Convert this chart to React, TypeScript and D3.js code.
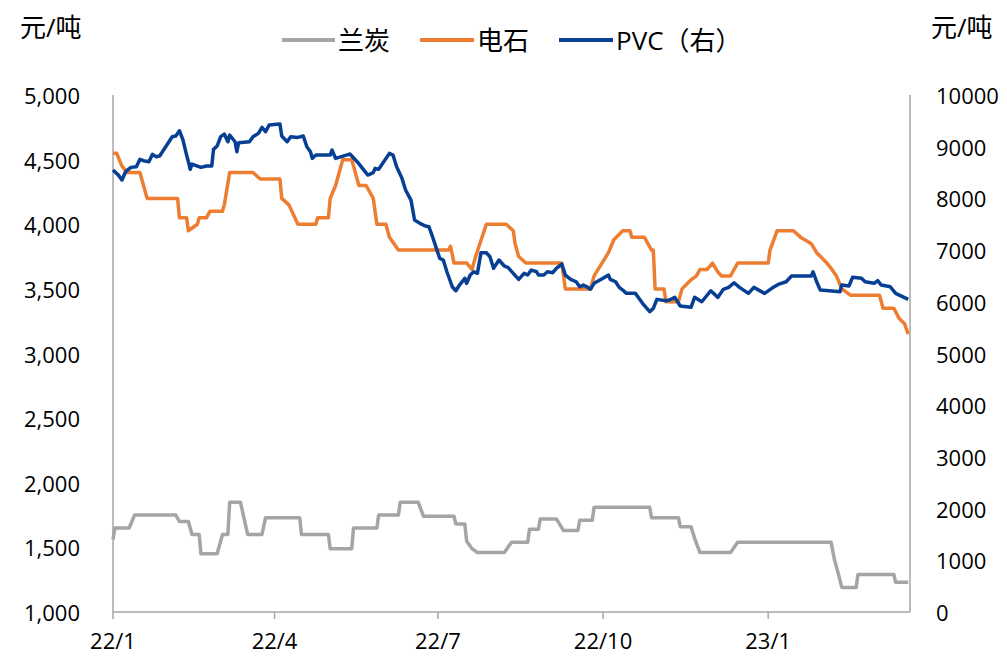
import React from "react";
import * as d3 from "d3";

// ---- Data ----
// 兰炭 (left axis, 元/吨)
const lantanDates = ["2022-01-01","2022-01-02","2022-01-10","2022-01-13","2022-02-05","2022-02-07","2022-02-12","2022-02-14","2022-02-18","2022-02-19","2022-02-28","2022-03-03","2022-03-06","2022-03-07","2022-03-13","2022-03-17","2022-03-25","2022-03-27","2022-04-15","2022-04-16","2022-05-01","2022-05-02","2022-05-14","2022-05-15","2022-05-28","2022-05-29","2022-06-09","2022-06-10","2022-06-20","2022-06-23","2022-07-10","2022-07-11","2022-07-16","2022-07-17","2022-07-20","2022-07-23","2022-08-07","2022-08-11","2022-08-20","2022-08-21","2022-08-26","2022-08-27","2022-09-05","2022-09-09","2022-09-17","2022-09-18","2022-09-25","2022-09-26","2022-10-27","2022-10-28","2022-11-12","2022-11-13","2022-11-19","2022-11-21","2022-11-24","2022-12-11","2022-12-15","2023-02-05","2023-02-07","2023-02-09","2023-02-11","2023-02-19","2023-02-20","2023-03-12","2023-03-13","2023-03-20"];
const lantanValues = [1560,1650,1650,1750,1750,1700,1700,1600,1600,1450,1450,1600,1600,1850,1850,1600,1600,1730,1730,1600,1600,1490,1490,1650,1650,1750,1750,1850,1850,1740,1740,1680,1680,1550,1490,1460,1460,1540,1540,1640,1640,1720,1720,1630,1630,1710,1710,1810,1810,1730,1730,1660,1660,1570,1460,1460,1540,1540,1400,1300,1190,1190,1290,1290,1230,1230];

// 电石 (left axis, 元/吨)
const dianshiDates = ["2022-01-01","2022-01-03","2022-01-06","2022-01-09","2022-01-16","2022-01-20","2022-02-06","2022-02-07","2022-02-11","2022-02-12","2022-02-17","2022-02-18","2022-02-22","2022-02-24","2022-03-03","2022-03-04","2022-03-07","2022-03-20","2022-03-24","2022-04-04","2022-04-05","2022-04-09","2022-04-14","2022-04-24","2022-04-25","2022-05-01","2022-05-02","2022-05-05","2022-05-07","2022-05-09","2022-05-14","2022-05-18","2022-05-22","2022-05-26","2022-05-28","2022-06-02","2022-06-04","2022-06-09","2022-07-07","2022-07-08","2022-07-10","2022-07-17","2022-07-20","2022-07-22","2022-07-28","2022-08-08","2022-08-12","2022-08-13","2022-08-15","2022-08-19","2022-09-08","2022-09-10","2022-09-24","2022-09-26","2022-10-04","2022-10-07","2022-10-12","2022-10-16","2022-10-17","2022-10-24","2022-10-28","2022-10-29","2022-10-30","2022-11-04","2022-11-05","2022-11-12","2022-11-14","2022-11-19","2022-11-22","2022-11-24","2022-11-28","2022-12-01","2022-12-04","2022-12-06","2022-12-11","2022-12-15","2023-01-01","2023-01-02","2023-01-06","2023-01-15","2023-01-19","2023-01-25","2023-01-28","2023-02-02","2023-02-05","2023-02-08","2023-02-11","2023-02-16","2023-03-04","2023-03-06","2023-03-12","2023-03-15","2023-03-18","2023-03-20"];
const dianshiValues = [4550,4550,4450,4400,4400,4200,4200,4050,4050,3950,4000,4050,4050,4100,4100,4150,4400,4400,4350,4350,4200,4150,4000,4000,4050,4050,4200,4300,4400,4500,4500,4300,4300,4200,4000,4000,3900,3800,3800,3830,3700,3700,3650,3750,4000,4000,3950,3850,3750,3700,3700,3500,3500,3600,3780,3880,3950,3950,3900,3900,3800,3800,3500,3500,3400,3400,3500,3570,3600,3650,3650,3700,3630,3600,3600,3700,3700,3800,3950,3950,3900,3850,3780,3710,3660,3600,3500,3450,3450,3350,3350,3270,3230,3150];

// PVC (right axis, 元/吨)
const pvcDates = ["2022-01-01","2022-01-04","2022-01-06","2022-01-08","2022-01-11","2022-01-14","2022-01-16","2022-01-18","2022-01-21","2022-01-23","2022-01-25","2022-01-27","2022-02-03","2022-02-05","2022-02-07","2022-02-09","2022-02-11","2022-02-12","2022-02-13","2022-02-14","2022-02-19","2022-02-22","2022-02-25","2022-02-26","2022-02-28","2022-03-02","2022-03-04","2022-03-06","2022-03-07","2022-03-10","2022-03-11","2022-03-12","2022-03-18","2022-03-20","2022-03-23","2022-03-25","2022-03-27","2022-03-29","2022-04-04","2022-04-05","2022-04-08","2022-04-10","2022-04-14","2022-04-17","2022-04-19","2022-04-21","2022-04-22","2022-04-24","2022-05-02","2022-05-03","2022-05-05","2022-05-11","2022-05-13","2022-05-17","2022-05-23","2022-05-26","2022-05-27","2022-05-29","2022-06-04","2022-06-06","2022-06-08","2022-06-11","2022-06-13","2022-06-16","2022-06-18","2022-06-21","2022-06-24","2022-06-26","2022-06-28","2022-07-02","2022-07-04","2022-07-06","2022-07-09","2022-07-11","2022-07-13","2022-07-16","2022-07-17","2022-07-19","2022-07-21","2022-07-23","2022-07-25","2022-07-28","2022-07-30","2022-08-01","2022-08-04","2022-08-07","2022-08-09","2022-08-12","2022-08-15","2022-08-18","2022-08-20","2022-08-22","2022-08-25","2022-08-26","2022-08-29","2022-08-31","2022-09-03","2022-09-05","2022-09-08","2022-09-10","2022-09-13","2022-09-16","2022-09-18","2022-09-20","2022-09-22","2022-09-24","2022-09-26","2022-10-01","2022-10-04","2022-10-05","2022-10-08","2022-10-10","2022-10-12","2022-10-14","2022-10-19","2022-10-21","2022-10-23","2022-10-27","2022-10-29","2022-10-31","2022-11-05","2022-11-07","2022-11-10","2022-11-13","2022-11-19","2022-11-21","2022-11-25","2022-11-30","2022-12-04","2022-12-07","2022-12-10","2022-12-13","2022-12-16","2022-12-21","2022-12-24","2022-12-30","2023-01-03","2023-01-07","2023-01-11","2023-01-14","2023-01-25","2023-01-26","2023-01-28","2023-01-30","2023-02-04","2023-02-10","2023-02-11","2023-02-15","2023-02-17","2023-02-22","2023-02-24","2023-03-01","2023-03-03","2023-03-05","2023-03-10","2023-03-13","2023-03-20"];
const pvcValues = [8550,8450,8355,8516,8600,8613,8755,8729,8710,8852,8807,8819,9193,9206,9309,9128,8838,8710,8562,8664,8600,8626,8626,8948,9012,9193,9245,9096,9225,9096,8902,9077,9096,9193,9258,9374,9290,9419,9438,9206,9096,9193,9180,9206,8999,8902,8774,8838,8838,8935,8774,8838,8858,8710,8452,8497,8581,8562,8871,8838,8613,8387,8162,7968,7581,7517,7465,7452,7259,6841,6808,6581,6291,6214,6324,6454,6357,6518,6581,6550,6949,6949,6872,6647,6808,6692,6666,6550,6434,6550,6518,6614,6581,6518,6518,6581,6563,6647,6730,6518,6434,6388,6291,6324,6291,6241,6357,6454,6518,6434,6388,6279,6227,6163,6163,6067,5970,5808,5873,6047,6021,6034,6086,5918,5893,6086,6001,6214,6086,6241,6279,6369,6279,6163,6279,6163,6260,6343,6388,6498,6498,6581,6388,6227,6214,6195,6324,6305,6473,6454,6388,6357,6408,6324,6291,6163,6047];

const leftTicks = [1000, 1500, 2000, 2500, 3000, 3500, 4000, 4500, 5000];
const rightTicks = [0, 1000, 2000, 3000, 4000, 5000, 6000, 7000, 8000, 9000, 10000];
const xTickDates = ["2022-01-01", "2022-04-01", "2022-07-01", "2022-10-01", "2023-01-01"];
const xTickLabels = ["22/1", "22/4", "22/7", "22/10", "23/1"];
const seriesNames = ["兰炭", "电石", "PVC（右）"];
const seriesColors = ["#A5A5A5", "#ED7D31", "#063F93"];
const unitLabel = "元/吨";

const W = 1007;
const H = 659;
const FONT = "'Open Sans', 'Noto Sans CJK SC', sans-serif";

export default function App() {
  const parse = d3.timeParse("%Y-%m-%d");
  const x = d3
    .scaleTime()
    .domain([parse("2022-01-01")!, parse("2023-03-21")!])
    .range([113, 910]);
  const yL = d3.scaleLinear().domain([1000, 5000]).range([612, 95]);
  const yR = d3.scaleLinear().domain([0, 10000]).range([612, 95]);

  const mk = (dates: string[], vals: number[]) =>
    dates.map((d, i) => ({ d: parse(d)!, v: vals[i] }));

  const lineL = d3
    .line<{ d: Date; v: number }>()
    .x((p) => x(p.d))
    .y((p) => yL(p.v));
  const lineR = d3
    .line<{ d: Date; v: number }>()
    .x((p) => x(p.d))
    .y((p) => yR(p.v));

  const lantan = mk(lantanDates, lantanValues);
  const dianshi = mk(dianshiDates, dianshiValues);
  const pvc = mk(pvcDates, pvcValues);

  const axisColor = "#A6A6A6";
  const fs = 22;
  const fsLegend = 26;

  const legendItems = [
    { x1: 282, x2: 335, tx: 338, name: seriesNames[0], color: seriesColors[0] },
    { x1: 420, x2: 474, tx: 477, name: seriesNames[1], color: seriesColors[1] },
    { x1: 559, x2: 613, tx: 616, name: seriesNames[2], color: seriesColors[2] },
  ];

  return (
    <svg
      width={W}
      height={H}
      style={{ position: "absolute", left: 0, top: 0, background: "#fff" }}
      fontFamily={FONT}
    >
      <rect x={0} y={0} width={W} height={H} fill="#fff" />
      {/* unit labels */}
      <text x={20} y={27} fontSize={fsLegend} dominantBaseline="central" fill="#000">
        {unitLabel}
      </text>
      <text x={931} y={27} fontSize={fsLegend} dominantBaseline="central" fill="#000">
        {unitLabel}
      </text>

      {/* legend */}
      {legendItems.map((it, i) => (
        <g key={i}>
          <line x1={it.x1} x2={it.x2} y1={40} y2={40} stroke={it.color} strokeWidth={4} />
          <text x={it.tx} y={40} fontSize={fsLegend} dominantBaseline="central" fill="#000">
            {it.name}
          </text>
        </g>
      ))}

      {/* axes */}
      <line x1={113} x2={113} y1={yL(5000)} y2={612} stroke={axisColor} strokeWidth={1.5} />
      <line x1={910} x2={910} y1={yR(10000)} y2={612} stroke={axisColor} strokeWidth={1.5} />
      <line x1={113} x2={910} y1={612} y2={612} stroke={axisColor} strokeWidth={1.5} />

      {leftTicks.map((t) => (
        <text
          key={"l" + t}
          x={80}
          y={yL(t)}
          fontSize={fs}
          textAnchor="end"
          dominantBaseline="central"
          fill="#000"
        >
          {d3.format(",")(t)}
        </text>
      ))}
      {rightTicks.map((t) => (
        <text
          key={"r" + t}
          x={936}
          y={yR(t)}
          fontSize={fs}
          textAnchor="start"
          dominantBaseline="central"
          fill="#000"
        >
          {String(t)}
        </text>
      ))}
      {xTickDates.map((d, i) => {
        const px = x(parse(d)!);
        return (
          <g key={"x" + i}>
            <line x1={px} x2={px} y1={612} y2={619} stroke={axisColor} strokeWidth={1.5} />
            <text
              x={px}
              y={640}
              fontSize={fs}
              textAnchor="middle"
              dominantBaseline="central"
              fill="#000"
            >
              {xTickLabels[i]}
            </text>
          </g>
        );
      })}

      {/* series */}
      <path d={lineL(lantan) || ""} fill="none" stroke={seriesColors[0]} strokeWidth={3.5} strokeLinejoin="round" />
      <path d={lineL(dianshi) || ""} fill="none" stroke={seriesColors[1]} strokeWidth={3.5} strokeLinejoin="round" />
      <path d={lineR(pvc) || ""} fill="none" stroke={seriesColors[2]} strokeWidth={3.5} strokeLinejoin="round" />
    </svg>
  );
}
